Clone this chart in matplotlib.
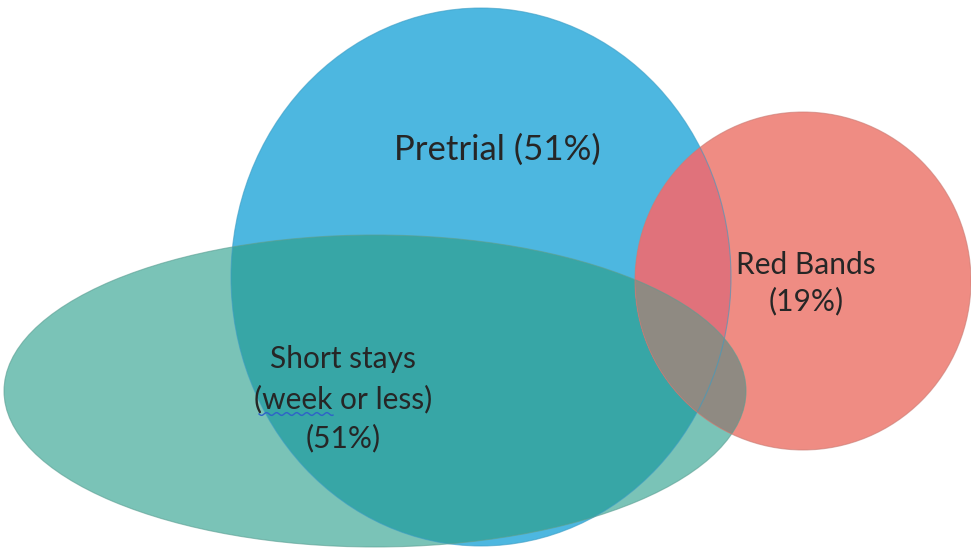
import numpy as np
import matplotlib
matplotlib.use('Agg')
import matplotlib.pyplot as plt
from matplotlib.patches import Ellipse

plt.rcParams['font.family'] = ['Lato', 'DejaVu Sans']

# sets: centre and size in pixel coords of the picture
sets = ['Pretrial', 'Short stays', 'Red Bands']
centres = [(481, 277), (375, 391), (803, 281)]
sizes = [(500, 538), (742, 312), (336, 338)]
labels = ['Pretrial (51%)', 'Short stays\n(week or less)\n(51%)', 'Red Bands\n(19%)']
label_pos = [(497, 150), (343, 399), (806, 283)]
label_size = [25, 21.5, 21.5]
label_spacing = [1.3, 1.47, 1.32]

BLUE, GREEN, RED = '#4db7e0', '#7ac3b7', '#ef8c83'
BLUE_GREEN, BLUE_RED, GREEN_RED = '#37a6a6', '#e0727b', '#8f8a82'

fig = plt.figure(figsize=(9.71, 5.48), dpi=100)
ax = fig.add_axes([0, 0, 1, 1])
ax.set_xlim(0, 971); ax.set_ylim(548, 0); ax.set_aspect('equal'); ax.axis('off')

def shape(i, fc, z, clip=None):
    e = Ellipse(centres[i], *sizes[i], fc=fc, ec='none', zorder=z)
    ax.add_patch(e)
    if clip is not None:
        e.set_clip_path(clip)
    return e

blue = shape(0, BLUE, 1)
green = shape(1, GREEN, 2)
shape(1, BLUE_GREEN, 3, clip=blue)
red = shape(2, RED, 4)
shape(2, BLUE_RED, 5, clip=blue)
shape(1, GREEN_RED, 6, clip=red)

# faint outlines
for i, c in zip(range(3), ['#3a9cc4', '#5a9e92', '#c97a72']):
    ax.add_patch(Ellipse(centres[i], *sizes[i], fc='none', ec=c, lw=0.8, alpha=0.6, zorder=7))

for (x, y), t, fs, ls in zip(label_pos, labels, label_size, label_spacing):
    ax.text(x, y, t, ha='center', va='center', fontsize=fs, color='#262626',
            linespacing=ls, zorder=10)

# spell-check squiggle under "week"
xs = np.linspace(259, 333, 70)
ax.plot(xs, 414 + 1.4 * np.sin((xs - 259) / 1.6), color='#2f62c8', lw=1, zorder=10)

fig.savefig('out.png', dpi=100)
